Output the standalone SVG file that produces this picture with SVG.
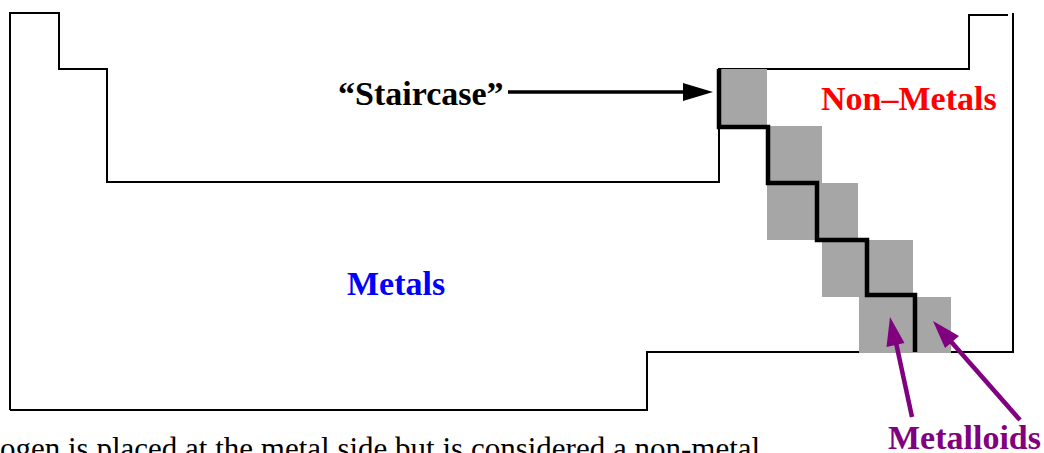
<svg xmlns="http://www.w3.org/2000/svg" width="1044" height="453" viewBox="0 0 1044 453">
<style>
.outline{fill:none;stroke:#000;stroke-width:2;stroke-linejoin:miter}
.lbl{font-family:"Liberation Serif","Times New Roman",serif;font-weight:bold;font-size:34px}
.gray{fill:#a6a6a6}
.parrow{stroke:#800080;stroke-width:4.5;fill:none}
</style>
<rect width="1044" height="453" fill="#fff"/>
<g id="table">
<path class="outline" d="M10,410 L10,13 L59,13 L59,69 L107,69 L107,182 L719,182 L719,69 L969,69 L969,15 L1008,15"/>
<path class="outline" d="M1013,13 L1013,352 L647,352 L647,410 L10,410"/>
</g>
<g id="metalloid-cells">
<rect class="gray" x="719" y="69" width="48" height="57"/>
<rect class="gray" x="767" y="126" width="55" height="57"/>
<rect class="gray" x="767" y="183" width="91" height="57"/>
<rect class="gray" x="822" y="240" width="91" height="57"/>
<rect class="gray" x="859" y="297" width="92" height="56"/>
</g>
<g id="staircase">
<path d="M719,69 L719,127 L768,127 L768,183 L817,183 L817,240 L867,240 L867,295 L915,295 L915,352" fill="none" stroke="#000" stroke-width="4.5"/>
</g>
<g id="label-staircase">
<text class="lbl" x="338" y="105" fill="#000" font-size="30.5">“Staircase”</text>
</g>
<g id="label-nonmetals">
<text class="lbl" x="821" y="110" fill="#ff0000">Non–Metals</text>
</g>
<g id="label-metals">
<text class="lbl" x="347" y="295" fill="#0000ff">Metals</text>
</g>
<g id="label-metalloids">
<text class="lbl" x="888" y="449" fill="#800080">Metalloids</text>
</g>
<g id="note">
<text x="0" y="459" font-family="Liberation Serif, Times New Roman, serif" font-size="31" fill="#000">ogen is placed at the metal side but is considered a non-metal</text>
</g>
<g id="connectors">
<path d="M508,92 L685,92" stroke="#000" stroke-width="3.5"/>
<path d="M713,92 L683,83 L683,101 Z" fill="#000"/>
<path class="parrow" d="M912,417 L895,338"/>
<path d="M890,317 L904.5,343 L886.5,347 Z" fill="#800080"/>
<path class="parrow" d="M1020,420 L947,337"/>
<path d="M933,321 L959,336 L945,348 Z" fill="#800080"/>
</g>
</svg>
